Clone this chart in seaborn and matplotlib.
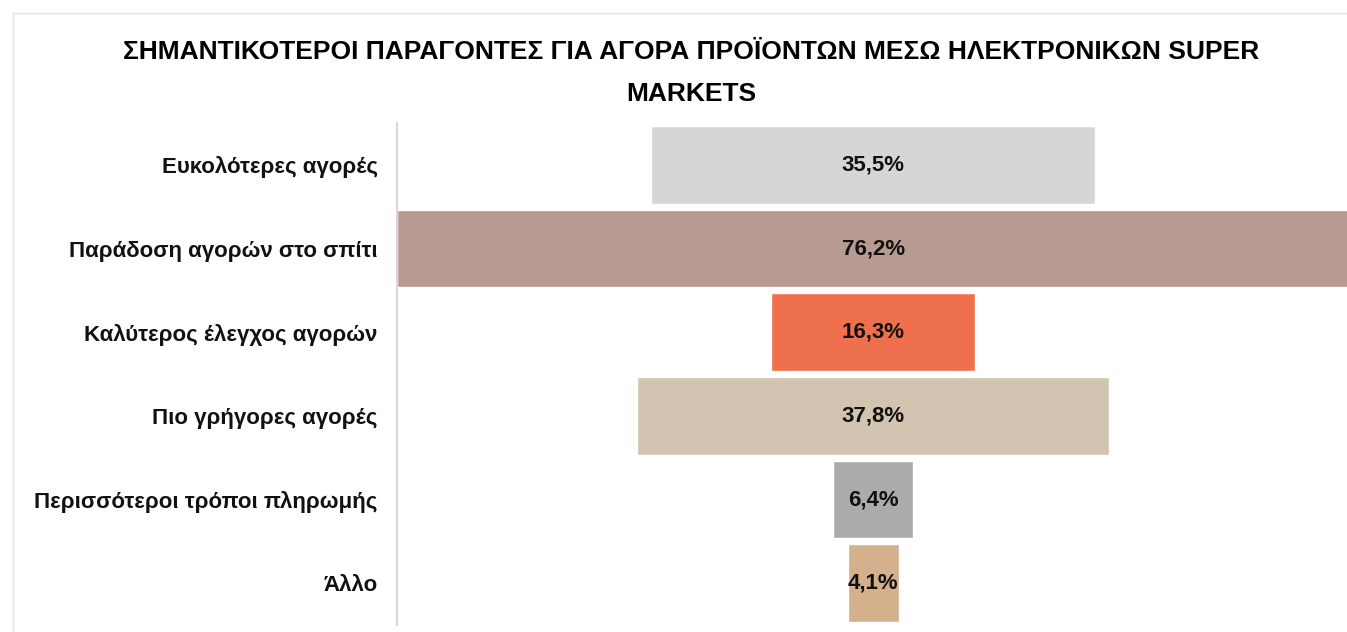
import matplotlib
matplotlib.use('Agg')
import matplotlib.pyplot as plt
import seaborn as sns
import pandas as pd
from matplotlib.patches import Rectangle

# data
categories = ['Ευκολότερες αγορές', 'Παράδοση αγορών στο σπίτι', 'Καλύτερος έλεγχος αγορών',
              'Πιο γρήγορες αγορές', 'Περισσότεροι τρόποι πληρωμής', 'Άλλο']
values = [35.5, 76.2, 16.3, 37.8, 6.4, 4.1]
value_labels = ['35,5%', '76,2%', '16,3%', '37,8%', '6,4%', '4,1%']
colors = ['#D6D6D6', '#B79B90', '#EF704C', '#D2C4B0', '#ABABAB', '#D4B08D']
title = 'ΣΗΜΑΝΤΙΚΟΤΕΡΟΙ ΠΑΡΑΓΟΝΤΕΣ ΓΙΑ ΑΓΟΡΑ ΠΡΟΪΟΝΤΩΝ ΜΕΣΩ ΗΛΕΚΤΡΟΝΙΚΩΝ SUPER\nMARKETS'

sns.set_style('white')
plt.rcParams['font.family'] = ['Liberation Sans', 'DejaVu Sans']

df = pd.DataFrame({'factor': categories, 'value': values})

fig = plt.figure(figsize=(13.47, 6.32), dpi=100)
ax = fig.add_axes([0.2947, 0.011, 0.7053, 0.7943])

sns.barplot(data=df, y='factor', x='value', hue='factor', palette=colors,
            orient='h', width=0.93, legend=False, ax=ax, saturation=1)

# funnel: centre each bar on the widest one
top = max(values)
for patch, v, lab in zip(ax.patches, values, value_labels):
    patch.set_x((top - v) / 2)
    yc = patch.get_y() + patch.get_height() / 2
    ax.text(top / 2, yc, lab, ha='center', va='center', fontsize=16,
            fontweight='bold', color='#111111')

ax.set_xlim(0, 76.0)
ax.set_ylim(len(values) - 0.5, -0.5)
ax.set_xlabel('')
ax.set_ylabel('')
ax.set_xticks([])
ax.tick_params(axis='y', length=0, pad=14, labelsize=16, labelcolor='#111111')
for t in ax.get_yticklabels():
    t.set_fontweight('bold')
for s in ['top', 'right', 'bottom']:
    ax.spines[s].set_visible(False)
ax.spines['left'].set_color('#D9D9D9')
ax.spines['left'].set_linewidth(1.5)

# chart frame
fig.patches.append(Rectangle((0.0095, -0.1), 1.2, 1.08, transform=fig.transFigure,
                             fill=False, edgecolor='#E3E3E3', linewidth=1.0))

fig.text(0.513, 0.937, title, ha='center', va='top', fontsize=19,
         fontweight='bold', linespacing=1.95, color='#000000')

fig.savefig('out.png', dpi=100)
